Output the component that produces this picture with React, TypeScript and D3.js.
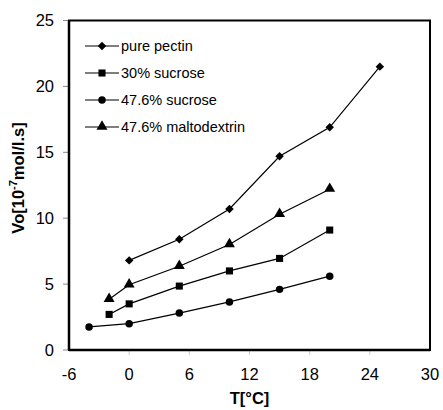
import React from "react";
import * as d3 from "d3";

const pectinX = [0, 5, 10, 15, 20, 25];
const pectinY = [6.8, 8.4, 10.7, 14.7, 16.9, 21.5];
const suc30X = [-2, 0, 5, 10, 15, 20];
const suc30Y = [2.7, 3.5, 4.85, 6.0, 6.95, 9.1];
const suc476X = [-4, 0, 5, 10, 15, 20];
const suc476Y = [1.75, 2.0, 2.8, 3.65, 4.6, 5.6];
const maltoX = [-2, 0, 5, 10, 15, 20];
const maltoY = [3.85, 4.95, 6.35, 8.0, 10.3, 12.2];
const seriesNames = ["pure pectin", "30% sucrose", "47.6% sucrose", "47.6% maltodextrin"];
const markerTypes = ["diamond", "square", "circle", "triangle"];
const xTicks = [-6, 0, 6, 12, 18, 24, 30];
const yTicks = [0, 5, 10, 15, 20, 25];

const W = 443, H = 410;
const L = 69, R = 430, T = 20.5, B = 350;

function Marker({ type, x, y }: { type: string; x: number; y: number }) {
  if (type === "diamond") {
    const s = d3.symbol().type(d3.symbolSquare).size(36)() as string;
    return <path d={s} transform={`translate(${x},${y}) rotate(45)`} fill="#000" />;
  }
  const sym =
    type === "square" ? d3.symbolSquare :
    type === "circle" ? d3.symbolCircle : d3.symbolTriangle;
  const size = type === "square" ? 50 : type === "circle" ? 44 : 52;
  const p = d3.symbol().type(sym).size(size)() as string;
  const dy = type === "triangle" ? -0.5 : 0;
  return <path d={p} transform={`translate(${x},${y + dy})`} fill="#000" />;
}

export default function App() {
  const x = d3.scaleLinear().domain([-6, 30]).range([L, R]);
  const y = d3.scaleLinear().domain([0, 25]).range([B, T]);
  const series = [
    { xs: pectinX, ys: pectinY },
    { xs: suc30X, ys: suc30Y },
    { xs: suc476X, ys: suc476Y },
    { xs: maltoX, ys: maltoY },
  ];
  const line = d3.line<[number, number]>().x((d) => x(d[0])).y((d) => y(d[1]));
  const font = "Liberation Sans, Arial, sans-serif";
  return (
    <svg width={W} height={H} style={{ position: "absolute", left: 0, top: 0 }} fontFamily={font}>
      <rect width={W} height={H} fill="#fff" />
      {yTicks.map((t) => (
        <g key={"y" + t}>
          <line x1={L - 6} x2={L} y1={y(t)} y2={y(t)} stroke="#888" strokeWidth={1} />
          <text x={L - 15} y={y(t)} dy="0.36em" textAnchor="end" fontSize={16.5}>{t}</text>
        </g>
      ))}
      {xTicks.map((t) => (
        <g key={"x" + t}>
          {t > -6 && t < 30 && (
            <line x1={x(t)} x2={x(t)} y1={B} y2={B + 5} stroke="#ccc" strokeWidth={1} />
          )}
          <text x={x(t)} y={B + 30} textAnchor="middle" fontSize={16.5}>{t}</text>
        </g>
      ))}
      <rect x={L} y={T} width={R - L} height={B - T} fill="none" stroke="#000" strokeWidth={2} />
      <line x1={L} x2={R} y1={B} y2={B} stroke="#000" strokeWidth={2.5} />
      <line x1={L} x2={L} y1={T} y2={B} stroke="#000" strokeWidth={2.5} />
      {series.map((s, i) => {
        const pts = s.xs.map((v, j) => [v, s.ys[j]] as [number, number]);
        return (
          <g key={"s" + i}>
            <path d={line(pts) as string} fill="none" stroke="#000" strokeWidth={1.2} />
            {pts.map((p, j) => (
              <Marker key={j} type={markerTypes[i]} x={x(p[0])} y={y(p[1])} />
            ))}
          </g>
        );
      })}
      {seriesNames.map((n, i) => {
        const ly = 46 + i * 27;
        return (
          <g key={"l" + i}>
            <line x1={85} x2={119} y1={ly} y2={ly} stroke="#000" strokeWidth={1.2} />
            <Marker type={markerTypes[i]} x={102} y={ly} />
            <text x={121} y={ly} dy="0.36em" fontSize={14.5}>{n}</text>
          </g>
        );
      })}
      <text x={(L + R) / 2} y={404} textAnchor="middle" fontSize={16.5} fontWeight="bold">T[°C]</text>
      <text transform={`translate(24,178) rotate(-90)`} textAnchor="middle" fontSize={16.5} fontWeight="bold">
        Vo[10<tspan dy={-7} fontSize={11}>-7</tspan><tspan dy={7}>mol/l.s]</tspan>
      </text>
    </svg>
  );
}
